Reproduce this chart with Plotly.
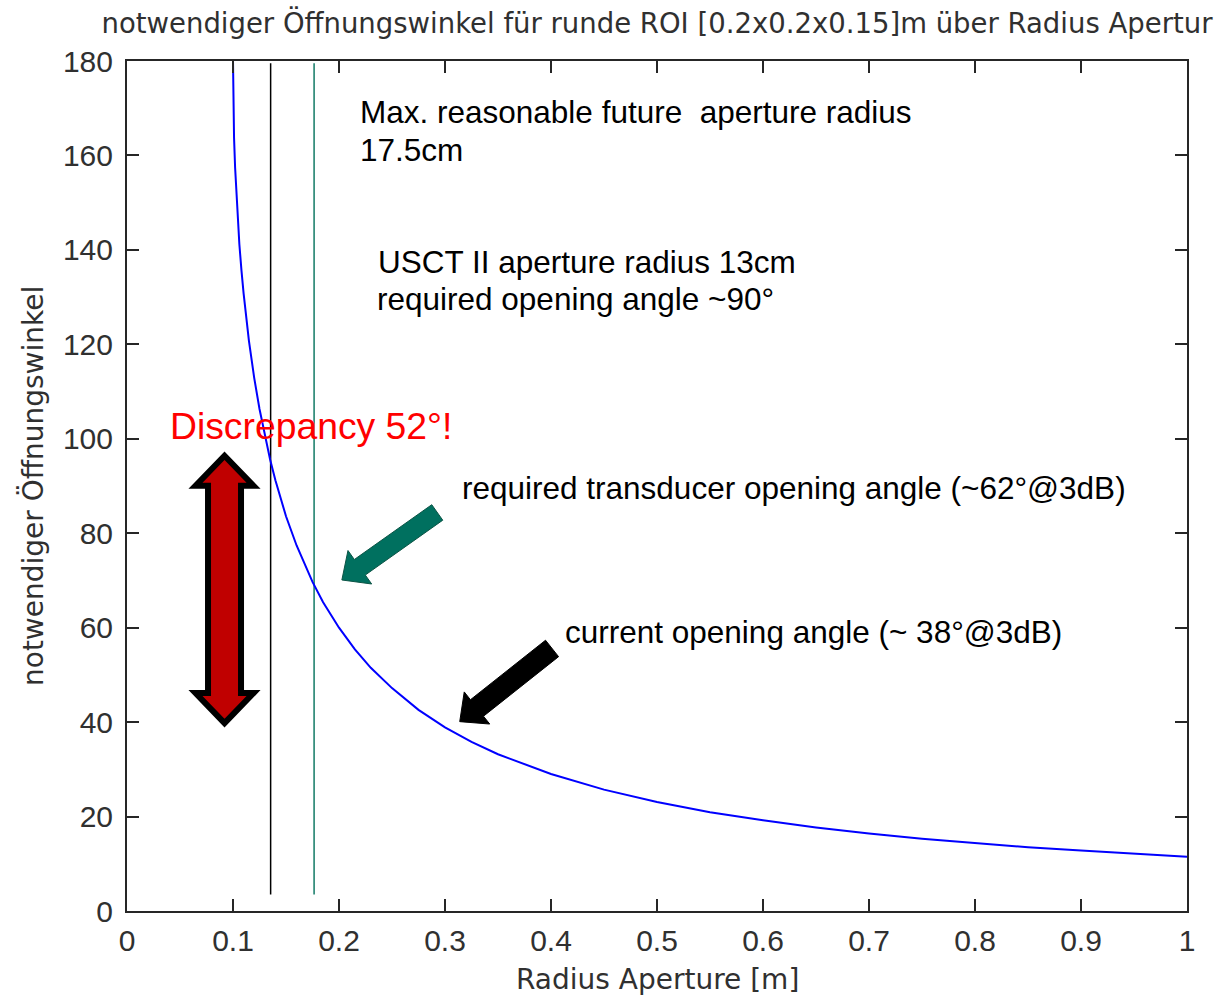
import math
import plotly.graph_objects as go

# Required opening angle over aperture radius (round ROI 0.2 x 0.2 x 0.15 m)
radius_m = [0.100, 0.1005, 0.101, 0.102, 0.104, 0.106, 0.108, 0.110, 0.115, 0.120,
            0.125, 0.130, 0.135, 0.140, 0.145, 0.150, 0.160, 0.170, 0.175, 0.185,
            0.200, 0.215, 0.230, 0.250, 0.275, 0.300, 0.325, 0.350, 0.400, 0.450,
            0.500, 0.550, 0.600, 0.650, 0.700, 0.750, 0.800, 0.850, 0.900, 0.950,
            1.000]
angle_deg = [180, 168.6, 163.7, 157.4, 148.0, 141.2, 135.6, 130.8, 120.8, 112.9,
             106.3, 100.6, 95.6, 91.2, 87.2, 83.6, 77.4, 72.0, 69.7, 65.4,
             60.0, 55.4, 51.5, 47.2, 42.6, 38.9, 35.8, 33.2, 29.0, 25.7,
             23.1, 20.9, 19.2, 17.7, 16.4, 15.3, 14.4, 13.5, 12.8, 12.1,
             11.5]

# Aperture radius markers
usct2_radius = 0.1355
future_radius = 0.1765
marker_span = [3.5, 179.5]

x_ticks = [0, 0.1, 0.2, 0.3, 0.4, 0.5, 0.6, 0.7, 0.8, 0.9, 1]
x_tick_text = ["0", "0.1", "0.2", "0.3", "0.4", "0.5", "0.6", "0.7", "0.8", "0.9", "1"]
y_ticks = [0, 20, 40, 60, 80, 100, 120, 140, 160, 180]

W, H = 1225, 1001
ML, MR, MT, MB = 127, 38, 61, 90
X_RANGE = [0, 1]
Y_RANGE = [0, 180]
PW, PH = W - ML - MR, H - MT - MB


def to_px(x, y):
    return ((x - X_RANGE[0]) / (X_RANGE[1] - X_RANGE[0]) * PW,
            (y - Y_RANGE[0]) / (Y_RANGE[1] - Y_RANGE[0]) * PH)


def to_data(px, py):
    return (X_RANGE[0] + px / PW * (X_RANGE[1] - X_RANGE[0]),
            Y_RANGE[0] + py / PH * (Y_RANGE[1] - Y_RANGE[0]))


def page_to_paper(px, py):
    return (px - ML) / PW, (H - MB - py) / PH


def path_from_px(points):
    pts = [to_data(px, py) for px, py in points]
    return "M " + " L ".join(f"{x:.5f},{y:.4f}" for x, y in pts) + " Z"


def block_arrow(tail, tip, shaft_w, head_w, head_len):
    """Single block arrow; tail/tip in data units, sizes in screen pixels."""
    tx, ty = to_px(*tail)
    hx, hy = to_px(*tip)
    dx, dy = hx - tx, hy - ty
    L = math.hypot(dx, dy)
    ux, uy = dx / L, dy / L
    nx, ny = -uy, ux
    bx, by = hx - ux * head_len, hy - uy * head_len
    s, h = shaft_w / 2, head_w / 2
    pts = [(tx + nx * s, ty + ny * s), (bx + nx * s, by + ny * s),
           (bx + nx * h, by + ny * h), (hx, hy),
           (bx - nx * h, by - ny * h), (bx - nx * s, by - ny * s),
           (tx - nx * s, ty - ny * s)]
    return path_from_px(pts)


def double_arrow(x, y_top, y_bot, shaft_w, head_w, head_len):
    cx, top = to_px(x, y_top)
    _, bot = to_px(x, y_bot)
    s, h = shaft_w / 2, head_w / 2
    pts = [(cx, top), (cx + h, top - head_len), (cx + s, top - head_len),
           (cx + s, bot + head_len), (cx + h, bot + head_len), (cx, bot),
           (cx - h, bot + head_len), (cx - s, bot + head_len),
           (cx - s, top - head_len), (cx - h, top - head_len)]
    return path_from_px(pts)


AX_COLOR = "#262626"
TICK_FONT = dict(family="Liberation Sans, Arial", size=30, color="#303030")
LABEL_FONT = dict(family="DejaVu Sans, Arial", size=28, color="#303030")
NOTE_FONT = dict(family="Liberation Sans, Arial", size=31.5, color="black")

fig = go.Figure()

fig.add_trace(go.Scatter(x=[usct2_radius, usct2_radius], y=marker_span, mode="lines",
                         line=dict(color="black", width=1.5), hoverinfo="skip"))
fig.add_trace(go.Scatter(x=[future_radius, future_radius], y=marker_span, mode="lines",
                         line=dict(color="#127a66", width=1.5), hoverinfo="skip"))
fig.add_trace(go.Scatter(x=radius_m, y=angle_deg, mode="lines",
                         line=dict(color="#0000ff", width=2)))

shapes = [
    dict(type="path", xref="x", yref="y",
         path=double_arrow(0.092, 96.4, 39.8, 33, 58, 30),
         fillcolor="#c00000", line=dict(color="black", width=6), layer="above"),
    dict(type="path", xref="x", yref="y",
         path=block_arrow((0.2927, 84.4), (0.2027, 70.1), 19, 41, 22),
         fillcolor="#00705f", line=dict(color="#0b5445", width=1), layer="above"),
    dict(type="path", xref="x", yref="y",
         path=block_arrow((0.401, 55.6), (0.3139, 40.1), 21, 41, 22),
         fillcolor="black", line=dict(color="black", width=1), layer="above"),
]

notes = [
    ("Max. reasonable future  aperture radius", 358, 112, NOTE_FONT),
    ("17.5cm", 358, 150, NOTE_FONT),
    ("USCT II aperture radius 13cm", 376, 262, NOTE_FONT),
    ("required opening angle ~90°", 375, 299, NOTE_FONT),
    ("Discrepancy 52°!", 168, 426, dict(family="Liberation Sans, Arial", size=37.3, color="#ff0000")),
    ("required transducer opening angle (~62°@3dB)", 460, 488, NOTE_FONT),
    ("current opening angle (~ 38°@3dB)", 563, 632, NOTE_FONT),
]
annotations = []
for text, px, py, font in notes:
    xp, yp = page_to_paper(px, py)
    annotations.append(dict(text=text, x=xp, y=yp, xref="paper", yref="paper",
                            xanchor="left", yanchor="middle", showarrow=False,
                            font=font))

xt, yt = page_to_paper(0, 980)
annotations.append(dict(text="Radius Aperture [m]", x=0.5, y=yt,
                        xref="paper", yref="paper", xanchor="center",
                        yanchor="middle", showarrow=False, font=LABEL_FONT))
xt, yt = page_to_paper(33, 0)
annotations.append(dict(text="notwendiger Öffnungswinkel", x=xt, y=0.5,
                        xref="paper", yref="paper", xanchor="center",
                        yanchor="middle", textangle=-90, showarrow=False,
                        font=LABEL_FONT))

axis_common = dict(showline=True, linecolor=AX_COLOR, linewidth=2, mirror="ticks",
                   ticks="inside", ticklen=12, tickwidth=2, tickcolor=AX_COLOR,
                   showgrid=False, zeroline=False, tickfont=TICK_FONT)

fig.update_layout(
    width=W, height=H,
    margin=dict(l=ML, r=MR, t=MT, b=MB),
    paper_bgcolor="white", plot_bgcolor="white",
    showlegend=False,
    title=dict(text="notwendiger Öffnungswinkel für runde ROI [0.2x0.2x0.15]m über Radius Apertur",
               x=0.5, xref="paper", xanchor="center", y=1 - 23 / H, yref="container",
               yanchor="middle", font=dict(family="DejaVu Sans, Arial", size=27.5, color="#303030")),
    xaxis=dict(range=X_RANGE, tickvals=x_ticks, ticktext=x_tick_text,
               ticklabelstandoff=2, **axis_common),
    yaxis=dict(range=Y_RANGE, tickvals=y_ticks, ticklabelstandoff=6, **axis_common),
    shapes=shapes,
    annotations=annotations,
)

fig.write_html("out.html")
